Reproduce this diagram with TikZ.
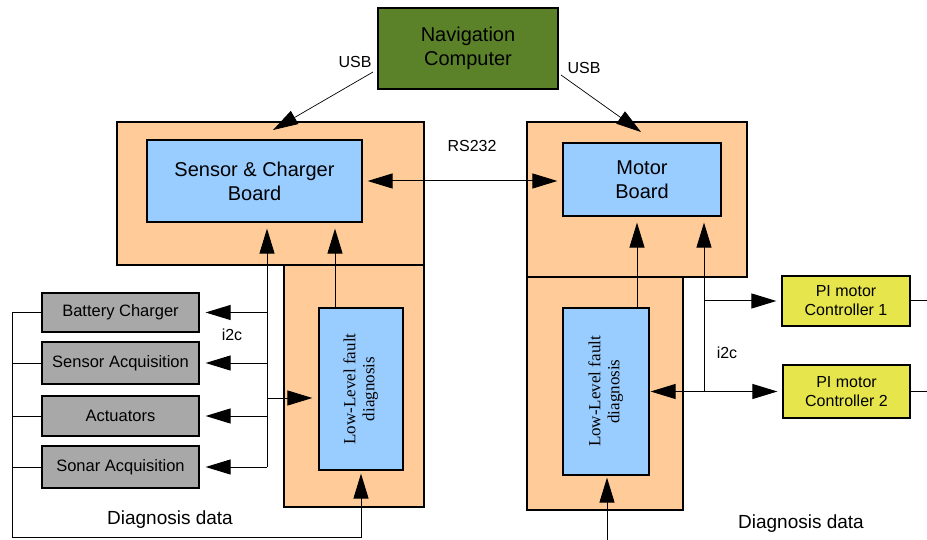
\documentclass[tikz,border=0pt]{standalone}
\usepackage{fontspec}
\usepackage{graphicx}
\setmainfont{Liberation Sans}
\newfontfamily\faultfont{Liberation Serif}
\usepackage{tikz}
\usetikzlibrary{arrows.meta, positioning}

\definecolor{navgreen}{HTML}{5B8228}
\definecolor{boardorange}{HTML}{FFCC99}
\definecolor{chipblue}{HTML}{99CCFF}
\definecolor{periphgray}{HTML}{A8A8A8}
\definecolor{ctrlyellow}{HTML}{E6E64C}

\newcommand{\faulttext}{\rotatebox{90}{\faultfont\fontsize{17}{19}\selectfont
  \begin{tabular}{@{}c@{}}Low-Level fault\\diagnosis\end{tabular}}}

\tikzset{bigtip/.tip={Triangle[length=25pt,width=15pt]}}

\begin{document}
\begin{tikzpicture}[x=1pt,y=-1pt,
    box/.style={draw,rectangle,line width=1.2pt,inner sep=0pt,align=center},
    board/.style={box,fill=boardorange},
    chip/.style={box,fill=chipblue,font=\fontsize{20}{24}\selectfont},
    periph/.style={box,fill=periphgray,minimum width=157pt,font=\fontsize{16.5}{19}\selectfont},
    ctrl/.style={box,fill=ctrlyellow,font=\fontsize{16}{19}\selectfont},
    lbl/.style={font=\fontsize{16}{19}\selectfont},
    wire/.style={line width=1pt},
    arr/.style={wire,-bigtip,shorten >=5pt},
    darr/.style={wire,bigtip-bigtip,shorten >=5pt,shorten <=5pt}]
  \useasboundingbox (0,0) rectangle (927,540);

  \node[box,fill=navgreen,minimum width=180pt,minimum height=81pt,
        font=\fontsize{20}{24}\selectfont] (nav) at (468,48.5) {Navigation\\Computer};

  \node[board,minimum width=307pt,minimum height=143pt] (lboard) at (270.5,193.5) {};
  \node[board,minimum width=140pt,minimum height=242pt] (llow) at (354,386) {};
  \node[board,minimum width=220pt,minimum height=155pt] (rboard) at (637,199.5) {};
  \node[board,minimum width=156pt,minimum height=233pt] (rlow) at (605,393.5) {};

  \node[chip,minimum width=215pt,minimum height=82pt] (sensor) at (254.5,181) {Sensor \& Charger\\Board};
  \node[chip,minimum width=158pt,minimum height=73pt] (motor) at (642,179.5) {Motor\\Board};
  \node[box,fill=chipblue,minimum width=84pt,minimum height=162pt] (lfault) at (361,389) {\faulttext};
  \node[box,fill=chipblue,minimum width=86pt,minimum height=167pt] (rfault) at (606,391.5) {\faulttext};

  \node[periph,minimum height=39pt] (battery) at (120.5,312.5) {Battery Charger};
  \node[periph,minimum height=42pt] (sensacq) at (120.5,363) {Sensor Acquisition};
  \node[periph,minimum height=40pt] (actuators) at (120.5,416) {Actuators};
  \node[periph,minimum height=42pt] (sonar) at (120.5,467) {Sonar Acquisition};

  \node[ctrl,minimum width=128pt,minimum height=50pt] (pi1) at (846,301) {PI motor\\Controller 1};
  \node[ctrl,minimum width=127pt,minimum height=53pt] (pi2) at (846.5,391.5) {PI motor\\Controller 2};

  \node[lbl] (usbl) at (355,62) {USB};
  \node[lbl] (usbr) at (584,68) {USB};
  \node[lbl] (rs) at (472,146) {RS232};
  \node[lbl] (i2cl) at (232,335) {i2c};
  \node[lbl] (i2cr) at (727,353) {i2c};
  \node[font=\fontsize{19}{22}\selectfont] (diagl) at (170,520) {Diagnosis data};
  \node[font=\fontsize{19}{22}\selectfont] (diagr) at (801,524) {Diagnosis data};

  \coordinate (usbla) at (373,72);
  \coordinate (usblb) at (273,130);
  \coordinate (usbra) at (561,75);
  \coordinate (usbrb) at (641,132);
  \coordinate (lbus) at (267,467);
  \coordinate (ltap) at (267,398);
  \coordinate (lup) at (335,308);
  \coordinate (rup) at (637,308);
  \coordinate (rbus) at (704,391.5);
  \coordinate (rin) at (607,540);
  \coordinate (dloop) at (12,537);

  \draw[arr,line width=0.7pt,shorten >=0pt] (usbla) -- (usblb);
  \draw[arr,line width=0.7pt,shorten >=0pt] (usbra) -- (usbrb);
  \draw[darr] (sensor.east) -- (sensor.east -| motor.west);

  \draw[arr,shorten >=6pt] (lbus) -- (lbus |- sensor.south);
  \draw[arr,shorten >=6pt] (lup) -- (lup |- sensor.south);
  \draw[arr,shorten >=6pt] (ltap) -- (ltap -| lfault.west);
  \foreach \p in {battery,sensacq,actuators,sonar}
    \draw[arr,shorten >=6pt] (\p.east -| lbus) -- (\p.east);

  \draw[arr,shorten >=3pt] (battery.west) -| (dloop) -| (lfault.south);
  \foreach \p in {sensacq,actuators,sonar}
    \draw[wire] (\p.west) -- (\p.west -| dloop);

  \draw[arr,shorten >=6pt] (rup) -- (rup |- motor.south);
  \draw[arr,shorten >=6pt] (rbus) -- (rbus |- motor.south);
  \draw[arr] (rbus |- pi1.west) -- (pi1.west);
  \draw[arr] (rbus) -- (pi2.west);
  \draw[arr,shorten >=1pt] (rbus) -- (rfault.east);
  \draw[arr,shorten >=2pt] (rin) -- (rin |- rfault.south);
  \draw[wire] (pi1.east) -- ++(17,0);
  \draw[wire] (pi2.east) -- ++(17,0);
\end{tikzpicture}
\end{document}
